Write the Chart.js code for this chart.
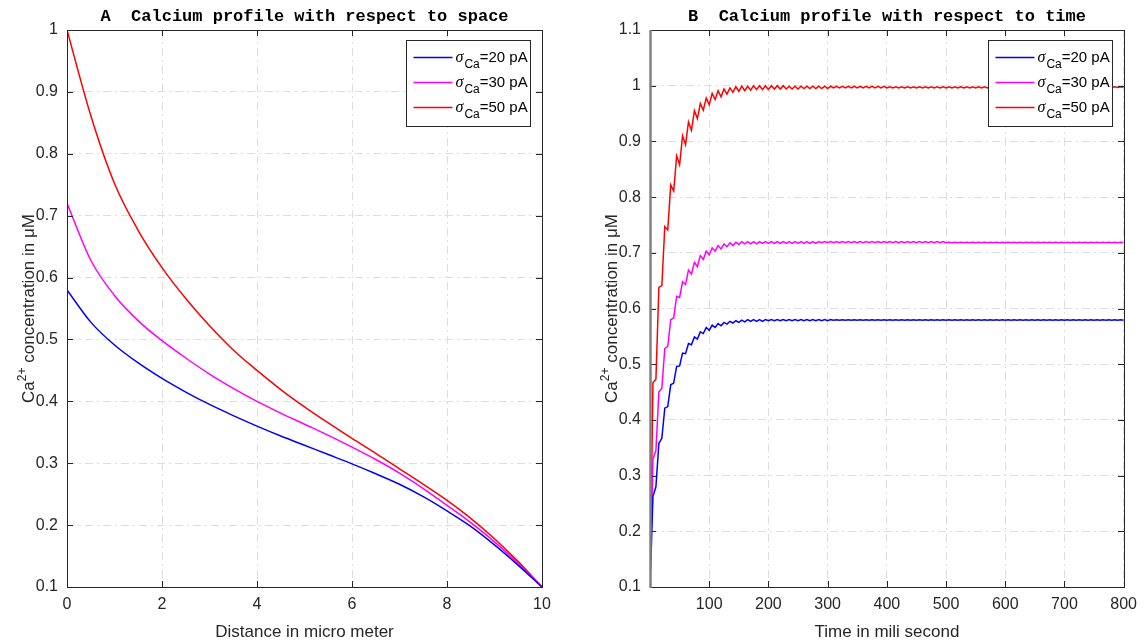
<!DOCTYPE html>
<html>
<head>
<meta charset="utf-8">
<script src="https://cdn.jsdelivr.net/npm/chart.js@4.4.1/dist/chart.umd.min.js"></script>
<style>
  body { margin: 0; background: #fff; width: 1145px; height: 641px; overflow: hidden; position: relative; }
  .panel { position: absolute; top: 0; }
  #panelA { left: 0; }
  #panelB { left: 583px; }
</style>
</head>
<body>
<div class="panel" id="panelA"><canvas id="spaceChart" width="560" height="641"></canvas></div>
<div class="panel" id="panelB"><canvas id="timeChart" width="562" height="641"></canvas></div>
<script>
// source currents (pA), one curve each
const currents = [20, 30, 50];
const lineColors = ["#0000ff", "#ff00ff", "#ff0000"];

// A: calcium vs distance (micro meter)
const distance = [0, 0.5, 1, 1.5, 2, 2.5, 3, 3.5, 4, 4.5, 5, 5.5, 6, 6.5, 7, 7.5, 8, 8.5, 9, 9.5, 10];
const caSpace20 = [0.580, 0.528, 0.491, 0.462, 0.437, 0.415, 0.395, 0.377, 0.360, 0.344, 0.329, 0.314, 0.299, 0.283, 0.266, 0.246, 0.223, 0.198, 0.168, 0.135, 0.100];
const caSpace30 = [0.720, 0.628, 0.571, 0.530, 0.498, 0.470, 0.444, 0.421, 0.400, 0.381, 0.363, 0.345, 0.326, 0.306, 0.284, 0.259, 0.232, 0.204, 0.173, 0.138, 0.100];
const caSpace50 = [1.000, 0.862, 0.752, 0.676, 0.616, 0.566, 0.522, 0.483, 0.450, 0.419, 0.391, 0.365, 0.340, 0.316, 0.291, 0.266, 0.240, 0.211, 0.178, 0.141, 0.100];

// B: calcium vs time (ms)
const time = [1,
  5, 10, 15, 20, 25, 30, 35, 40, 45, 50,
  55, 60, 65, 70, 75, 80, 85, 90, 95, 100,
  105, 110, 115, 120, 125, 130, 135, 140, 145, 150,
  155, 160, 165, 170, 175, 180, 185, 190, 195, 200,
  205, 210, 215, 220, 225, 230, 235, 240, 245, 250,
  255, 260, 265, 270, 275, 280, 285, 290, 295, 300,
  305, 310, 315, 320, 325, 330, 335, 340, 345, 350,
  355, 360, 365, 370, 375, 380, 385, 390, 395, 400,
  405, 410, 415, 420, 425, 430, 435, 440, 445, 450,
  455, 460, 465, 470, 475, 480, 485, 490, 495, 500,
  505, 510, 515, 520, 525, 530, 535, 540, 545, 550,
  555, 560, 565, 570, 575, 580, 585, 590, 595, 600,
  605, 610, 615, 620, 625, 630, 635, 640, 645, 650,
  655, 660, 665, 670, 675, 680, 685, 690, 695, 700,
  705, 710, 715, 720, 725, 730, 735, 740, 745, 750,
  755, 760, 765, 770, 775, 780, 785, 790, 795, 800];
const caTime20 = [0.130,
  0.263, 0.280, 0.358, 0.367, 0.421, 0.424, 0.463, 0.466, 0.496, 0.497,
  0.520, 0.519, 0.537, 0.535, 0.549, 0.545, 0.558, 0.555, 0.566, 0.561,
  0.570, 0.566, 0.573, 0.569, 0.575, 0.572, 0.577, 0.574, 0.578, 0.575,
  0.579, 0.576, 0.580, 0.577, 0.580, 0.577, 0.580, 0.577, 0.580, 0.578,
  0.580, 0.578, 0.580, 0.578, 0.580, 0.578, 0.580, 0.578, 0.580, 0.578,
  0.580, 0.578, 0.580, 0.578, 0.580, 0.578, 0.580, 0.578, 0.580, 0.578,
  0.580, 0.579, 0.580, 0.579, 0.580, 0.579, 0.580, 0.579, 0.580, 0.579,
  0.580, 0.579, 0.580, 0.579, 0.580, 0.579, 0.580, 0.579, 0.580, 0.579,
  0.580, 0.579, 0.580, 0.579, 0.580, 0.579, 0.580, 0.579, 0.580, 0.579,
  0.580, 0.579, 0.580, 0.579, 0.580, 0.579, 0.580, 0.579, 0.580, 0.579,
  0.580, 0.579, 0.580, 0.579, 0.580, 0.579, 0.580, 0.579, 0.580, 0.579,
  0.580, 0.579, 0.580, 0.579, 0.580, 0.579, 0.580, 0.579, 0.580, 0.579,
  0.580, 0.579, 0.580, 0.579, 0.580, 0.579, 0.580, 0.579, 0.580, 0.579,
  0.580, 0.579, 0.580, 0.579, 0.580, 0.579, 0.580, 0.579, 0.580, 0.579,
  0.580, 0.579, 0.580, 0.579, 0.580, 0.579, 0.580, 0.579, 0.580, 0.579,
  0.580, 0.579, 0.580, 0.579, 0.580, 0.579, 0.580, 0.579, 0.580, 0.579];
const caTime30 = [0.145,
  0.330, 0.345, 0.450, 0.457, 0.528, 0.532, 0.580, 0.583, 0.622, 0.620,
  0.648, 0.643, 0.669, 0.662, 0.683, 0.675, 0.695, 0.688, 0.703, 0.696,
  0.709, 0.703, 0.713, 0.707, 0.716, 0.711, 0.718, 0.713, 0.719, 0.715,
  0.720, 0.716, 0.720, 0.716, 0.720, 0.716, 0.720, 0.717, 0.720, 0.717,
  0.720, 0.717, 0.720, 0.717, 0.720, 0.717, 0.720, 0.717, 0.720, 0.717,
  0.720, 0.717, 0.720, 0.717, 0.720, 0.717, 0.720, 0.718, 0.720, 0.718,
  0.720, 0.718, 0.720, 0.718, 0.720, 0.718, 0.720, 0.718, 0.720, 0.718,
  0.720, 0.718, 0.720, 0.718, 0.720, 0.718, 0.720, 0.718, 0.720, 0.718,
  0.720, 0.718, 0.720, 0.718, 0.720, 0.718, 0.720, 0.718, 0.720, 0.718,
  0.720, 0.718, 0.720, 0.718, 0.720, 0.718, 0.720, 0.718, 0.720, 0.718,
  0.719, 0.718, 0.719, 0.718, 0.719, 0.718, 0.719, 0.718, 0.719, 0.718,
  0.719, 0.718, 0.719, 0.718, 0.719, 0.718, 0.719, 0.718, 0.719, 0.718,
  0.719, 0.718, 0.719, 0.718, 0.719, 0.718, 0.719, 0.718, 0.719, 0.718,
  0.719, 0.718, 0.719, 0.718, 0.719, 0.718, 0.719, 0.718, 0.719, 0.718,
  0.719, 0.718, 0.719, 0.718, 0.719, 0.718, 0.719, 0.718, 0.719, 0.718,
  0.719, 0.718, 0.719, 0.718, 0.719, 0.718, 0.719, 0.718, 0.719, 0.718];
const caTime50 = [0.170,
  0.467, 0.473, 0.638, 0.641, 0.747, 0.741, 0.822, 0.811, 0.874, 0.858,
  0.910, 0.894, 0.935, 0.920, 0.955, 0.941, 0.968, 0.956, 0.978, 0.966,
  0.986, 0.975, 0.991, 0.980, 0.994, 0.985, 0.996, 0.988, 0.998, 0.990,
  0.999, 0.991, 0.999, 0.992, 1.000, 0.993, 1.000, 0.993, 1.000, 0.993,
  1.000, 0.994, 1.000, 0.994, 1.000, 0.994, 0.999, 0.994, 0.999, 0.994,
  0.999, 0.995, 0.999, 0.995, 0.999, 0.995, 0.999, 0.995, 0.999, 0.995,
  0.999, 0.996, 0.999, 0.996, 0.999, 0.996, 0.999, 0.996, 0.999, 0.996,
  0.999, 0.996, 0.999, 0.996, 0.999, 0.996, 0.999, 0.996, 0.999, 0.996,
  0.998, 0.996, 0.998, 0.996, 0.998, 0.996, 0.998, 0.996, 0.998, 0.996,
  0.998, 0.996, 0.998, 0.996, 0.998, 0.996, 0.998, 0.996, 0.998, 0.996,
  0.998, 0.996, 0.998, 0.996, 0.998, 0.996, 0.998, 0.996, 0.998, 0.996,
  0.998, 0.996, 0.998, 0.996, 0.998, 0.996, 0.998, 0.996, 0.998, 0.996,
  0.998, 0.997, 0.998, 0.997, 0.998, 0.997, 0.998, 0.997, 0.998, 0.997,
  0.998, 0.997, 0.998, 0.997, 0.998, 0.997, 0.998, 0.997, 0.998, 0.997,
  0.998, 0.997, 0.998, 0.997, 0.998, 0.997, 0.998, 0.997, 0.998, 0.997,
  0.998, 0.997, 0.998, 0.997, 0.998, 0.997, 0.998, 0.997, 0.998, 0.997];

// tick values
const xTicksA = [0, 2, 4, 6, 8, 10];
const yTicksA = [0.1, 0.2, 0.3, 0.4, 0.5, 0.6, 0.7, 0.8, 0.9, 1];
const xTicksB = [100, 200, 300, 400, 500, 600, 700, 800];
const yTicksB = [0.1, 0.2, 0.3, 0.4, 0.5, 0.6, 0.7, 0.8, 0.9, 1, 1.1];

const SANS = "Arial, 'Liberation Sans', Helvetica, sans-serif";
const INK = "#262626";

function toPoints(xs, ys) {
  return xs.map((v, i) => ({ x: v, y: ys[i] }));
}

function makeDatasets(xs, seriesList, smooth) {
  return seriesList.map((ys, i) => ({
    label: "σCa=" + currents[i] + " pA",
    data: toPoints(xs, ys),
    borderColor: lineColors[i],
    borderWidth: 1.5,
    pointRadius: 0,
    fill: false,
    tension: 0,
    cubicInterpolationMode: smooth ? "monotone" : "default"
  }));
}

// plain tick text: 1 not 1.0, 0.3 not 0.30000000000000004
const tickText = v => String(Math.round(v * 10) / 10);

function makeScales(xMin, xMax, xTicks, yMin, yMax, yTicks) {
  const tickFont = { family: SANS, size: 16 };
  const gridLine = { color: "#dedede", lineWidth: 1, drawTicks: false };
  const gridBorder = { display: false, dash: [8, 4, 2, 4] };
  return {
    x: {
      type: "linear", min: xMin, max: xMax,
      afterBuildTicks: s => { s.ticks = xTicks.map(v => ({ value: v })); },
      afterFit: s => { s.height = 54; },
      grid: gridLine, border: gridBorder,
      ticks: { font: tickFont, color: INK, padding: 8, maxRotation: 0, autoSkip: false, callback: tickText }
    },
    y: {
      type: "linear", min: yMin, max: yMax,
      afterBuildTicks: s => { s.ticks = yTicks.map(v => ({ value: v })); },
      afterFit: s => { s.width = 67; },
      grid: gridLine, border: gridBorder,
      ticks: { font: tickFont, color: INK, padding: 9, autoSkip: false, callback: tickText }
    }
  };
}

// frame, inward ticks, legend and all titles
const decor = {
  id: "decor",
  afterDatasetsDraw(chart, args, opts) {
    const { ctx, chartArea: a, scales: { x, y } } = chart;
    const L = Math.round(a.left), T = Math.round(a.top), R = Math.round(a.right), B = Math.round(a.bottom);
    ctx.save();

    ctx.strokeStyle = INK;
    ctx.lineWidth = 1;
    ctx.beginPath();
    opts.xTicks.forEach(v => {
      const px = Math.round(x.getPixelForValue(v)) + 0.5;
      ctx.moveTo(px, B); ctx.lineTo(px, B - 6);
      ctx.moveTo(px, T); ctx.lineTo(px, T + 6);
    });
    opts.yTicks.forEach(v => {
      const py = Math.round(y.getPixelForValue(v)) + 0.5;
      ctx.moveTo(L, py); ctx.lineTo(L + 6, py);
      ctx.moveTo(R, py); ctx.lineTo(R - 6, py);
    });
    ctx.stroke();
    ctx.strokeRect(L + 0.5, T + 0.5, R - L, B - T);
    if (opts.leftEdge) {
      ctx.strokeStyle = opts.leftEdge;
      ctx.lineWidth = 2.5;
      ctx.beginPath();
      ctx.moveTo(L + 0.5, T); ctx.lineTo(L + 0.5, B + 1);
      ctx.stroke();
    }

    // legend
    const bw = 124, bh = 86;
    const bx = R - 12 - bw + 0.5, by = T + 10 + 0.5;
    ctx.fillStyle = "#fff";
    ctx.fillRect(bx, by, bw, bh);
    ctx.strokeStyle = INK;
    ctx.lineWidth = 1;
    ctx.strokeRect(bx, by, bw, bh);
    ctx.textAlign = "left";
    ctx.textBaseline = "alphabetic";
    chart.data.datasets.forEach((ds, i) => {
      const ry = by + 17 + i * 25;
      ctx.strokeStyle = ds.borderColor;
      ctx.lineWidth = 1.5;
      ctx.beginPath();
      ctx.moveTo(bx + 7, ry); ctx.lineTo(bx + 46, ry);
      ctx.stroke();
      ctx.fillStyle = "#000";
      let tx = bx + 49;
      ctx.font = "italic 16px 'Liberation Serif', 'Times New Roman', serif";
      ctx.fillText("σ", tx, ry + 4.5);
      tx += ctx.measureText("σ").width + 1;
      ctx.font = "12px " + SANS;
      ctx.fillText("Ca", tx, ry + 10.5);
      tx += ctx.measureText("Ca").width;
      ctx.font = "15px " + SANS;
      ctx.fillText("=" + currents[i] + " pA", tx, ry + 4.5);
    });

    // panel title
    ctx.fillStyle = "#000";
    ctx.textAlign = "center";
    ctx.font = "bold 17px 'Courier New', 'Liberation Mono', monospace";
    ctx.fillText(opts.title, (L + R) / 2, 21);

    // x axis title
    ctx.fillStyle = INK;
    ctx.font = "17px " + SANS;
    ctx.fillText(opts.xTitle, (L + R) / 2, 637);

    // y axis title with superscript
    ctx.translate(L - 33, (T + B) / 2);
    ctx.rotate(-Math.PI / 2);
    ctx.textAlign = "left";
    const big = "17px " + SANS, small = "12px " + SANS;
    const rest = " concentration in μM";
    ctx.font = big;
    const wCa = ctx.measureText("Ca").width, wRest = ctx.measureText(rest).width;
    ctx.font = small;
    const wSup = ctx.measureText("2+").width;
    let sx = -(wCa + wSup + wRest) / 2;
    ctx.font = big;
    ctx.fillText("Ca", sx, 0);
    sx += wCa;
    ctx.font = small;
    ctx.fillText("2+", sx, -8);
    sx += wSup;
    ctx.font = big;
    ctx.fillText(rest, sx, 0);

    ctx.restore();
  }
};

function makeChart(id, datasets, scales, decorOpts, padRight) {
  return new Chart(document.getElementById(id), {
    type: "line",
    data: { datasets: datasets },
    options: {
      responsive: false,
      animation: false,
      events: [],
      layout: { padding: { top: 30, right: padRight, bottom: 0, left: 0 } },
      scales: scales,
      plugins: {
        legend: { display: false },
        title: { display: false },
        tooltip: { enabled: false },
        decor: decorOpts
      }
    },
    plugins: [decor]
  });
}

makeChart("spaceChart",
  makeDatasets(distance, [caSpace20, caSpace30, caSpace50], true),
  makeScales(0, 10, xTicksA, 0.1, 1, yTicksA),
  { title: "A  Calcium profile with respect to space", xTitle: "Distance in micro meter", xTicks: xTicksA, yTicks: yTicksA },
  18);

makeChart("timeChart",
  makeDatasets(time, [caTime20, caTime30, caTime50], false),
  makeScales(0, 800, xTicksB, 0.1, 1.1, yTicksB),
  { title: "B  Calcium profile with respect to time", xTitle: "Time in mili second", xTicks: xTicksB, yTicks: yTicksB, leftEdge: "#808080" },
  18);
</script>
</body>
</html>
